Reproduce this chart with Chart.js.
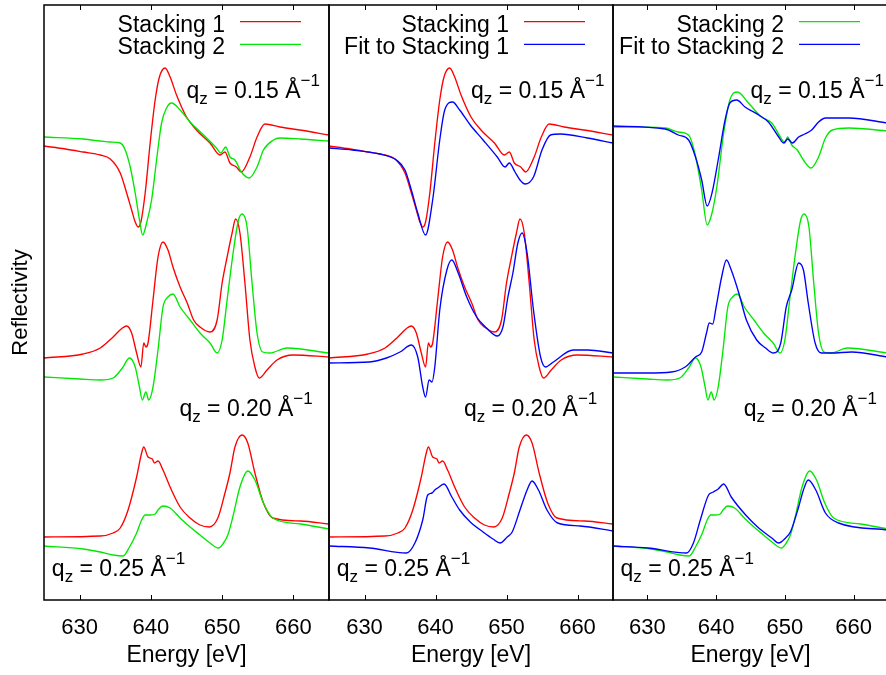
<!DOCTYPE html>
<html><head><meta charset="utf-8">
<script src="https://cdn.jsdelivr.net/npm/chart.js@4/dist/chart.umd.min.js"></script>
<style>
html,body{margin:0;padding:0;background:#fff;overflow:hidden;width:886px;height:675px;}
canvas{position:absolute;left:0;top:0;}
</style></head><body>
<canvas id="c1" width="886" height="675"></canvas>
<canvas id="c2" width="886" height="675"></canvas>
<canvas id="c3" width="900" height="675"></canvas>
<script>
// ---- data (energy [eV], reflectivity in arbitrary offset units) ----
const energyTicks = [630, 640, 650, 660];
const qValues = ['0.15', '0.20', '0.25'];

const s1_q15 = [[625,454],[628,451],[630.5,448],[632.9,445],[634.3,441],[635.7,427],[636.6,407],[637.3,390],[637.8,378],[638.2,373],[638.6,378],[639.2,407],[639.9,457],[640.6,500],[641.2,523],[642.0,532],[642.7,523],[643.6,505],[645.0,483],[646.4,470],[648.3,457],[649.7,445],[650.4,448],[651.1,437],[652.0,433],[652.7,428],[653.9,443],[654.9,463],[656.0,476],[658.1,473],[660.9,470],[665,465]];
const s1_q20 = [[625,242],[630.5,246],[632.9,252],[634.7,263],[636.0,272],[636.6,274],[637.3,267],[638.0,247],[638.6,233],[639.0,257],[639.3,253],[639.6,257],[640.3,300],[641.0,343],[641.7,358],[642.4,350],[643.1,333],[644.1,313],[645.1,297],[646.0,280],[646.9,273],[648.3,268],[649.3,280],[650.0,317],[650.7,343],[651.4,367],[651.9,381],[652.5,367],[653.2,317],[653.9,260],[654.6,233],[655.2,222],[656.3,230],[657.7,240],[660.0,245],[665,243]];
const s1_q25 = [[625,63],[632.9,64],[634.7,67],[635.7,72],[636.8,90],[638.0,123],[638.7,147],[639.0,153],[639.6,143],[640.2,141],[640.5,137],[641.0,139],[641.7,130],[642.7,113],[644.1,93],[645.5,82],[646.9,75],[648.2,73],[649.4,82],[650.4,107],[651.1,127],[651.8,153],[652.8,165],[653.6,157],[654.6,127],[655.8,97],[657.1,82],[661,79],[665,76]];

const s2_q15 = [[625,463],[630.5,461],[634.3,458],[635.7,457],[636.4,450],[637.1,433],[637.8,407],[638.4,380],[638.85,365],[639.4,377],[640.1,400],[640.8,440],[641.5,477],[642.2,492],[642.9,497],[644.1,490],[645.5,478],[647.4,465],[649.2,452],[649.8,447],[650.5,453],[651.1,443],[651.8,440],[652.7,428],[653.8,422],[654.9,433],[655.8,450],[657.2,460],[658.1,462],[661,461],[665,459]];
const s2_q15_right = [[625,473],[632.6,472],[634.5,468],[636.0,465],[636.9,447],[637.9,410],[638.7,375],[639.4,387],[640.1,413],[641.1,467],[642.0,500],[643.1,508],[644.7,497],[646.6,483],[648.1,477],[649.6,460],[650.0,457],[650.4,463],[651.0,455],[651.8,450],[652.7,440],[653.8,432],[654.9,443],[655.9,462],[656.9,470],[659.3,472],[665,469]];
const s2_q20 = [[625,223],[630,221],[632.9,220],[634.7,222],[636.0,232],[637.0,242],[637.8,233],[638.4,213],[638.8,200],[639.3,208],[639.7,200],[640.3,213],[641.0,250],[641.7,293],[642.4,303],[643.1,306],[644.1,293],[645.5,280],[646.9,267],[648.3,257],[649.3,247],[650.0,260],[650.7,300],[651.6,350],[652.3,380],[652.8,386],[653.5,373],[654.2,317],[654.9,267],[655.7,248],[656.7,247],[659.1,252],[665,247]];
const s2_q25 = [[625,54],[630.5,51],[632.9,48],[634.7,45],[636.1,44],[637.0,53],[638.0,67],[638.7,80],[639.2,85],[639.9,85],[640.6,86],[641.0,90],[641.7,94],[642.7,92],[644.1,82],[645.5,73],[646.9,65],[648.3,57],[649.5,52],[650.2,57],[650.8,65],[651.5,83],[652.5,113],[653.6,129],[654.6,120],[655.8,97],[657.1,82],[661,76],[665,71]];

const fit1_q15 = [[625,452],[628.3,450],[632.1,446],[634.5,440],[635.7,430],[636.6,410],[637.5,387],[638.6,365],[639.6,400],[640.6,460],[641.3,490],[642.4,498],[643.4,490],[644.9,475],[646.7,460],[648.7,443],[649.8,433],[650.4,437],[651.2,428],[651.9,420],[652.6,416],[653.8,423],[655.0,450],[656.2,465],[657.6,466],[661.4,462],[665,457]];
const fit1_q20 = [[625,237],[630.7,238],[633.1,242],[635,248],[636.6,255],[637.5,243],[638.2,213],[638.6,203],[639.1,220],[639.5,218],[639.9,233],[640.6,290],[641.6,330],[642.3,340],[643.2,327],[644.4,303],[645.8,283],[647.2,272],[648.7,264],[649.5,273],[650.2,303],[650.9,327],[651.6,357],[652.2,367],[652.9,347],[653.8,290],[654.8,243],[655.5,233],[656.6,238],[659.4,250],[661.4,250],[665,247]];
const fit1_q25 = [[625,54],[630.7,52],[635.9,47],[637.1,57],[638.2,80],[638.9,105],[639.5,107],[639.9,110],[640.3,112],[641.2,116],[642.3,103],[643.4,90],[644.9,78],[646.7,68],[648.1,61],[649.1,57],[650.1,63],[650.8,68],[651.9,90],[652.9,110],[653.6,119],[654.5,110],[655.7,90],[657.2,77],[660.4,74],[665,69]];

const fit2_q15 = [[625,474],[632.6,471],[634.5,465],[636.0,460],[637.0,443],[637.9,420],[638.7,394],[639.4,407],[640.3,440],[641.3,480],[642.0,497],[643.0,500],[644.2,493],[646.2,485],[647.6,478],[649.1,463],[649.8,457],[650.4,461],[651.1,457],[652.0,463],[652.9,466],[653.9,470],[654.9,478],[655.9,482],[659.3,482],[665,477]];
const fit2_q20 = [[625,227],[630.1,227],[633.5,228],[635.5,233],[637,243],[637.9,248],[638.6,267],[639,277],[639.5,276],[640,293],[640.8,323],[641.5,340],[642.2,330],[643.3,307],[644.4,280],[645.9,260],[647.2,252],[648.3,247],[649.4,257],[650.2,293],[651,310],[652,337],[652.7,330],[653.4,297],[654.4,257],[655.3,247],[656.8,247],[659.7,248],[665,243]];
const fit2_q25 = [[625,54],[630.1,52],[635.7,47],[636.7,57],[637.7,80],[638.9,105],[639.6,108],[640.3,111],[641.1,116],[642.2,103],[644.3,85],[646.2,72],[648.1,62],[649.1,57],[650.1,62],[650.8,68],[652,93],[652.7,110],[653.4,120],[654.5,110],[655.9,87],[657.8,77],[665,70]];

// ---- styling / layout ----
const FONT = '"Liberation Sans", Arial, Helvetica, sans-serif';
Chart.defaults.font.family = FONT;
Chart.defaults.color = '#000';
const RED = '#ff0000', GREEN = '#00e800', BLUE = '#0000ff';

const qAnchors = [{x: 645, y: 502}, {x: 644, y: 184}, {x: 626.1, y: 24}];

const panels = [
  {id: 'c1', padLeft: 0, padRight: 886 - 329, yTitle: true,
   series: [{name: 'Stacking 1', color: RED, curves: [s1_q15, s1_q20, s1_q25]},
            {name: 'Stacking 2', color: GREEN, curves: [s2_q15, s2_q20, s2_q25]}]},
  {id: 'c2', padLeft: 329, padRight: 886 - 613, yTitle: false,
   series: [{name: 'Stacking 1', color: RED, curves: [s1_q15, s1_q20, s1_q25]},
            {name: 'Fit to Stacking 1', color: BLUE, curves: [fit1_q15, fit1_q20, fit1_q25]}]},
  {id: 'c3', padLeft: 613, padRight: 900 - 888, yTitle: false,
   series: [{name: 'Stacking 2', color: GREEN, curves: [s2_q15_right, s2_q20, s2_q25]},
            {name: 'Fit to Stacking 2', color: BLUE, curves: [fit2_q15, fit2_q20, fit2_q25]}]}
];

function drawQLabel(ctx, x, y, q) {
  ctx.save();
  ctx.fillStyle = '#000';
  ctx.textAlign = 'left';
  ctx.textBaseline = 'alphabetic';
  const big = '23px ' + FONT, small = '17px ' + FONT;
  let cx = x;
  ctx.font = big; ctx.fillText('q', cx, y); cx += ctx.measureText('q').width;
  ctx.font = small; ctx.fillText('z', cx, y + 6); cx += ctx.measureText('z').width;
  const mid = ' = ' + q + ' \u00C5';
  ctx.font = big; ctx.fillText(mid, cx, y); cx += ctx.measureText(mid).width;
  ctx.font = small; ctx.fillText('\u22121', cx, y - 12);
  ctx.restore();
}

const decor = {
  id: 'decor',
  afterDraw(chart) {
    const {ctx, chartArea: a, scales} = chart;
    const xs = scales.x, ys = scales.y;
    ctx.save();
    // frame
    ctx.strokeStyle = '#000';
    ctx.lineWidth = 1.5;
    ctx.strokeRect(a.left, a.top, a.right - a.left, a.bottom - a.top);
    // inward ticks (top & bottom)
    ctx.lineWidth = 1;
    xs.ticks.forEach(t => {
      const px = Math.round(xs.getPixelForValue(t.value)) + 0.5;
      ctx.beginPath();
      ctx.moveTo(px, a.top); ctx.lineTo(px, a.top + 5);
      ctx.moveTo(px, a.bottom); ctx.lineTo(px, a.bottom - 5);
      ctx.stroke();
    });
    // legend (top-right, gnuplot style)
    const seen = [];
    chart.data.datasets.forEach(d => { if (!seen.find(s => s.label === d.label)) seen.push({label: d.label, color: d.borderColor}); });
    seen.forEach((it, i) => {
      const ly = a.top + 16.7 + i * 22.6;
      ctx.strokeStyle = it.color;
      ctx.lineWidth = 1.3;
      ctx.beginPath(); ctx.moveTo(a.right - 89, ly); ctx.lineTo(a.right - 28, ly); ctx.stroke();
      ctx.fillStyle = '#000';
      ctx.font = '23px ' + FONT;
      ctx.textAlign = 'right';
      ctx.textBaseline = 'alphabetic';
      ctx.fillText(it.label, a.right - 104, ly + 10);
    });
    ctx.restore();
    // q_z annotations
    qValues.forEach((q, i) => {
      drawQLabel(ctx, xs.getPixelForValue(qAnchors[i].x), ys.getPixelForValue(qAnchors[i].y), q);
    });
  }
};

panels.forEach(p => {
  const datasets = [];
  p.series.forEach((s, si) => {
    s.curves.forEach(c => {
      datasets.push({
        label: s.name,
        data: c.map(([x, y]) => ({x, y})),
        borderColor: s.color,
        borderWidth: 1.35,
        pointRadius: 0,
        fill: false,
        cubicInterpolationMode: 'monotone',
        order: -si
      });
    });
  });
  const yScale = {
    min: 0, max: 595,
    display: p.yTitle,
    ticks: {display: false},
    grid: {display: false, drawTicks: false},
    border: {display: false},
    title: {display: p.yTitle, text: 'Reflectivity', font: {size: 22}, color: '#000', padding: {top: 8, bottom: 0}}
  };
  if (p.yTitle) yScale.afterFit = s => { s.width = 44; };
  new Chart(document.getElementById(p.id), {
    type: 'line',
    data: {datasets},
    options: {
      responsive: false,
      animation: false,
      devicePixelRatio: 1,
      layout: {padding: {left: p.padLeft, right: p.padRight, top: 5, bottom: 0}},
      plugins: {legend: {display: false}, tooltip: {enabled: false}},
      scales: {
        x: {
          type: 'linear', min: 625, max: 665,
          afterBuildTicks: s => { s.ticks = energyTicks.map(v => ({value: v})); },
          afterFit: s => { s.height = 75; },
          grid: {display: false, drawTicks: false},
          border: {display: false},
          ticks: {padding: 15, font: {size: 22}, color: '#000', maxRotation: 0, autoSkip: false},
          title: {display: true, text: 'Energy [eV]', font: {size: 23}, color: '#000', padding: {top: 0, bottom: 6}}
        },
        y: yScale
      }
    },
    plugins: [decor]
  });
});
</script>
</body></html>
